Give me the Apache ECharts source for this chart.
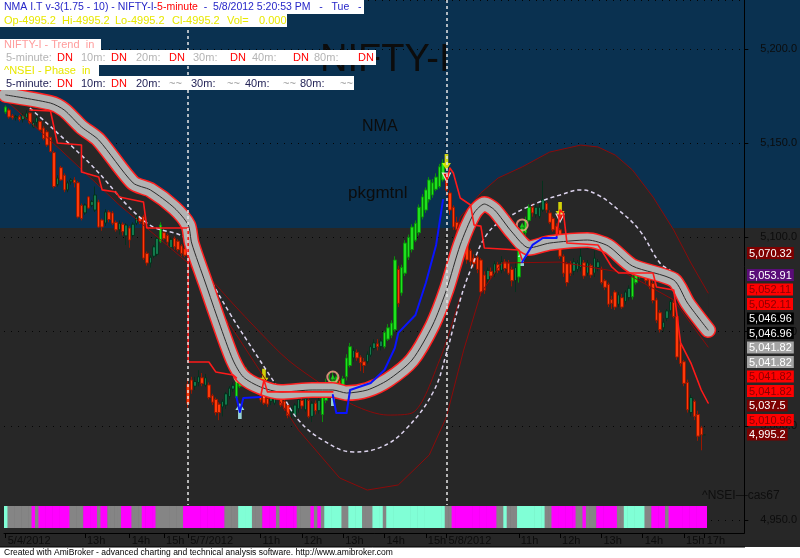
<!DOCTYPE html>
<html>
<head>
<meta charset="utf-8">
<title>NIFTY-I 5-minute</title>
<script src="https://cdn.jsdelivr.net/npm/echarts@6.0.0/dist/echarts.min.js"></script>
<style>
html,body{margin:0;padding:0;background:#fff;overflow:hidden;}
#chart{width:800px;height:558px;}
</style>
</head>
<body>
<div id="chart"></div>
<script>
// ---------------- DATA ----------------
// 5-minute candles [open, close, low, high]
const ohlcMay4 = [
[5166.5,5169.2,5165.5,5170.0],[5167.6,5163.9,5163.0,5168.5],[5164.5,5163.5,5162.5,5165.5],[5163.5,5164.2,5162.0,5165.0],
[5164.0,5162.5,5161.5,5165.0],[5162.5,5164.8,5161.0,5166.0],[5163.5,5166.0,5162.5,5167.5],[5166.0,5160.8,5160.0,5166.5],
[5158.6,5161.0,5158.0,5162.0],[5161.0,5163.5,5159.0,5166.0],[5161.5,5157.0,5156.5,5162.0],[5158.0,5152.5,5151.5,5159.0],
[5156.0,5149.0,5148.0,5157.0],[5153.0,5145.5,5145.0,5153.5],[5145.0,5127.0,5126.0,5146.0],[5128.0,5131.5,5127.0,5133.0],
[5137.0,5130.5,5130.0,5138.0],[5133.0,5125.2,5124.0,5134.0],[5125.2,5128.9,5124.0,5130.0],[5129.5,5130.5,5128.0,5131.5],
[5130.5,5129.0,5126.5,5132.0],[5129.0,5110.8,5110.0,5130.0],[5117.0,5110.0,5109.0,5118.0],[5113.0,5117.2,5112.0,5118.0],
[5121.5,5115.6,5115.0,5122.0],[5117.0,5119.0,5116.0,5119.9],[5114.5,5122.5,5113.5,5127.0],[5118.8,5105.5,5105.0,5120.0],
[5109.2,5105.5,5103.5,5110.0],[5107.6,5113.5,5106.0,5115.0],[5113.5,5109.5,5108.0,5114.5],[5113.0,5107.5,5106.5,5114.0],
[5108.0,5104.0,5103.0,5109.0],[5104.0,5107.5,5101.5,5109.0],[5107.0,5103.0,5101.0,5108.0],[5100.8,5106.6,5096.0,5107.5],
[5105.0,5098.6,5094.5,5106.0],[5101.0,5107.0,5100.0,5108.0],[5107.5,5110.8,5106.5,5112.0],[5110.5,5108.5,5107.0,5111.5],
[5111.0,5089.0,5088.0,5112.0],[5091.5,5086.4,5085.0,5092.5],[5086.4,5089.5,5084.0,5090.5],[5090.0,5095.0,5089.0,5096.0],
[5091.0,5099.5,5090.0,5100.5],[5098.0,5106.6,5097.0,5108.0],[5102.5,5099.3,5098.5,5103.5],[5101.0,5097.5,5096.0,5102.0],
[5094.5,5099.0,5093.5,5100.0],[5099.5,5095.0,5093.5,5100.5],[5098.0,5093.5,5092.5,5099.0],[5095.5,5091.5,5090.0,5096.5],
[5094.0,5090.5,5089.5,5095.0]
];
const ohlcMay7 = [
[5022.0,5012.0,5009.5,5025.0],[5024.3,5019.0,5017.0,5026.0],[5021.0,5023.5,5019.0,5026.0],[5023.0,5026.0,5021.0,5029.5],
[5025.5,5022.5,5021.0,5028.0],[5021.5,5025.5,5020.5,5027.5],[5021.7,5015.0,5014.0,5023.0],[5016.0,5012.5,5011.0,5017.0],
[5014.0,5007.0,5005.5,5015.0],[5011.5,5007.0,5003.0,5012.5],[5010.0,5013.0,5005.0,5014.0],[5011.0,5017.0,5009.0,5018.0],
[5015.5,5020.0,5014.0,5021.0],[5019.5,5021.5,5018.0,5023.0],[5015.0,5024.0,5014.0,5025.0],[5021.0,5028.0,5020.0,5032.0],
[5025.5,5028.0,5024.0,5030.0],[5025.0,5029.5,5023.5,5031.0],[5027.5,5023.5,5022.0,5029.0],[5024.3,5019.0,5018.0,5025.5],
[5022.5,5018.0,5017.0,5024.0],[5020.0,5013.7,5012.5,5021.0],[5015.5,5012.0,5011.0,5016.5],[5014.5,5011.5,5010.0,5015.5],
[5013.0,5016.0,5011.0,5018.0],[5012.0,5020.0,5011.0,5024.0],[5018.0,5017.0,5015.0,5021.0],[5016.0,5011.0,5010.0,5017.0],
[5013.0,5009.0,5008.0,5014.0],[5011.0,5005.5,5004.0,5012.0],[5007.0,5009.0,5003.0,5010.5],[5005.5,5011.0,5004.0,5012.0],
[5009.0,5014.0,5007.0,5015.0],[5013.5,5010.5,5009.0,5015.5],[5008.5,5014.5,5007.5,5016.0],[5013.5,5005.0,5004.0,5014.5],
[5005.0,5012.0,5002.0,5013.0],[5012.0,5008.0,5006.0,5013.5],[5008.0,5013.5,5006.5,5015.0],[5006.0,5017.0,5002.0,5018.0],
[5013.5,5023.0,5012.0,5025.0],[5019.0,5023.5,5017.0,5028.0],[5020.0,5024.0,5018.0,5029.0],[5021.0,5026.0,5019.0,5028.0],
[5024.0,5022.0,5019.0,5026.0],[5021.0,5025.0,5019.5,5026.5],[5026.0,5036.0,5024.0,5038.0],[5032.0,5042.0,5031.0,5044.0],
[5036.0,5040.0,5034.0,5041.5],[5039.0,5036.0,5034.5,5040.5],[5036.5,5033.5,5029.0,5037.5],[5034.0,5032.0,5028.0,5036.0],
[5034.0,5038.0,5033.0,5039.5],[5037.5,5042.0,5036.5,5043.0],[5041.0,5044.0,5040.0,5046.0],[5043.5,5042.0,5040.0,5046.0],
[5042.0,5045.0,5040.0,5046.5],[5042.0,5049.5,5041.0,5050.5],[5046.0,5052.0,5045.0,5054.0],[5048.0,5054.5,5046.5,5056.0],
[5051.0,5088.0,5050.0,5090.0],[5083.0,5065.0,5063.0,5085.0],[5070.5,5084.0,5069.0,5085.5],[5081.0,5097.0,5079.5,5098.5],
[5089.5,5100.0,5088.0,5101.5],[5093.5,5105.5,5092.0,5107.0],[5098.5,5107.5,5097.5,5109.0],[5102.5,5116.0,5101.0,5117.5],
[5110.8,5121.5,5109.5,5123.0],[5114.5,5125.2,5113.0,5126.5],[5120.0,5130.5,5118.5,5132.0],[5122.5,5129.0,5121.0,5131.0],
[5125.5,5132.0,5124.5,5134.0],[5127.0,5137.5,5126.0,5139.0],[5130.5,5139.5,5129.5,5141.5]
];
const ohlcMay8 = [
[5133.0,5125.0,5122.0,5134.0],[5123.6,5114.5,5112.0,5125.0],[5116.0,5105.5,5104.0,5117.0],[5108.0,5104.0,5102.0,5111.0],
[5107.0,5102.5,5101.0,5108.0],[5103.0,5108.0,5101.5,5110.0],[5104.0,5088.0,5086.0,5105.0],[5093.0,5087.0,5085.0,5094.0],
[5089.0,5086.0,5084.0,5091.0],[5089.5,5083.0,5081.0,5090.5],[5088.0,5071.0,5069.0,5089.0],[5080.0,5072.0,5070.0,5082.0],
[5077.5,5082.5,5075.0,5084.0],[5082.0,5079.5,5078.0,5084.0],[5080.5,5086.0,5079.0,5087.5],[5085.5,5082.5,5081.0,5087.0],
[5082.5,5087.0,5081.0,5090.0],[5087.0,5083.5,5082.0,5088.5],[5086.5,5081.0,5080.0,5088.0],[5083.0,5077.0,5074.0,5084.5],
[5077.0,5084.0,5071.0,5087.0],[5079.0,5096.0,5076.0,5098.0],[5096.0,5105.0,5094.5,5106.5],[5102.5,5109.0,5101.0,5111.0],
[5109.0,5116.0,5108.0,5117.5],[5116.0,5113.0,5111.0,5118.0],[5112.0,5116.0,5110.5,5117.5],[5111.0,5116.0,5110.0,5118.0],
[5114.5,5120.0,5113.5,5130.0],[5118.0,5114.5,5113.0,5119.0],[5113.0,5108.0,5107.0,5114.5],[5110.0,5104.0,5103.0,5111.0],
[5106.0,5101.0,5100.0,5107.5],[5104.0,5090.0,5088.5,5105.0],[5090.0,5081.0,5079.0,5091.0],[5086.0,5076.0,5074.0,5087.0],
[5086.0,5081.0,5079.5,5087.5],[5082.0,5087.0,5080.0,5089.0],[5083.0,5086.5,5081.5,5088.0],[5084.0,5090.0,5082.0,5094.0],
[5086.5,5079.5,5078.0,5088.0],[5081.0,5086.5,5079.5,5088.0],[5085.0,5080.0,5078.5,5086.0],[5081.0,5089.0,5079.0,5093.0],
[5084.0,5087.0,5082.0,5088.5],[5083.0,5076.0,5075.0,5084.5],[5077.0,5073.5,5072.0,5078.0],[5075.0,5064.5,5063.0,5076.0],
[5067.0,5065.0,5062.0,5069.0],[5071.0,5063.0,5061.5,5072.0],[5064.5,5069.5,5063.0,5071.0],[5068.0,5063.0,5062.0,5070.0],
[5066.0,5071.0,5064.5,5072.0],[5068.0,5073.0,5066.5,5074.5],[5068.5,5079.0,5067.0,5081.0],[5076.0,5082.5,5075.0,5086.0],
[5079.0,5084.0,5078.0,5086.0],[5083.5,5080.0,5078.5,5085.0],[5081.0,5077.0,5075.5,5082.5],[5079.0,5074.0,5072.5,5080.5],
[5075.5,5066.5,5065.0,5077.0],[5066.8,5056.0,5054.5,5068.0],[5060.0,5051.0,5049.5,5061.5],[5052.0,5055.0,5050.0,5057.0],
[5057.0,5061.0,5055.5,5062.0],[5061.0,5066.0,5059.5,5067.5],[5065.5,5058.0,5057.0,5067.0],[5058.0,5036.5,5035.0,5059.0],
[5043.5,5033.0,5031.5,5045.0],[5034.0,5022.5,5021.0,5035.0],[5023.0,5008.5,5007.0,5024.5],[5007.0,5015.0,5005.0,5016.5],
[5013.0,5005.0,5003.0,5014.0],[5006.0,4994.5,4992.0,5008.0],[4999.0,4995.2,4987.0,5000.0]
];
const ohlcLast = [[4995.2,4995.2,4995.2,4995.2]];   // 17h bar

const slotCount = 215;                 // bars + empty space on the right
const sessionStarts = [53, 128];       // 5/7 and 5/8 first bars
const xTickLabels = [[0,'5/4/2012'],[23,'13h'],[36,'14h'],[46,'15h'],[53,'5/7/2012'],[74,'11h'],[86,'12h'],
  [98,'13h'],[110,'14h'],[122,'15h'],[128,'5/8/2012'],[149,'11h'],[161,'12h'],[173,'13h'],[185,'14h'],[197,'15h'],[203,'17h']];
const brightRanges = [[0,0],[45,45],[67,70],[92,100],[110,127],[149,152],[182,184]];

// indicator lines: [barIndex, price]
const bandCenter = [[0,5175.6],[13,5171.3],[17,5167.6],[22,5158.6],[27,5151.7],[37,5128.9],[42,5125.2],[49,5115.6],
  [53,5106.6],[54,5097.0],[58,5075.8],[62,5054.6],[66,5034.9],[69,5025.9],[74,5020.6],[80,5017.9],[89,5019.0],
  [95,5019.0],[99,5017.4],[105,5019.0],[111,5024.3],[118,5034.9],[124,5053.5],[128,5072.1],[132,5096.0],
  [136,5112.9],[139,5117.7],[142,5114.5],[147,5102.9],[152,5094.4],[158,5097.0],[169,5098.6],[175,5095.4],
  [182,5084.8],[194,5077.4],[198,5065.2],[204,5050.8]];
const envUpper = [[0,5175.6],[13,5171.3],[27,5151.7],[42,5125.2],[53,5106.6],[58,5075.8],[66,5034.9],[74,5020.6],
  [95,5019.0],[111,5024.3],[118,5034.9],[124,5056.2],[128,5082.7],[132,5110.8],[138,5123.6],[143,5131.5],
  [150,5137.4],[158,5145.3],[167,5149.0],[172,5148.0],[177,5143.7],[182,5135.8],[188,5121.4],[194,5103.9],
  [199,5086.4],[204,5070.5]];
const envLower = [[0,5172.9],[16,5146.4],[33,5117.2],[53,5086.4],[68,5045.5],[85,4997.8],[97,4972.3],[105,4965.9],
  [114,4968.6],[123,4984.5],[128,5004.7],[133,5040.2],[138,5070.5],[144,5086.4],[161,5086.9],[180,5081.1],
  [194,5066.8],[204,5041.8]];
const envInner = [[53,5091.7],[65,5066.8],[74,5049.3],[82,5034.9],[92,5021.7],[101,5011.0],[111,5005.7],
  [118,5006.8],[126,5034.9],[132,5068.4]];
const dashedCurve = [[7,5168.7],[24,5140.0],[41,5107.6],[53,5098.6],[59,5079.0],[65,5059.9],[70,5045.5],[80,5017.4],
  [85,5003.1],[92,4992.5],[101,4986.1],[109,4988.7],[116,4997.8],[124,5017.4],[128,5038.6],[132,5066.8],
  [135,5082.7],[140,5102.3],[146,5110.8],[155,5118.8],[161,5122.5],[167,5125.2],[172,5122.5],[178,5114.5],
  [184,5103.9],[190,5086.4],[193,5082.7]];
const redStop1 = [[7,5167.6],[13,5167.1],[15,5150.1],[22,5149.0],[22,5134.7],[27,5132.1],[28,5125.2],[32,5124.1],
  [33,5121.4],[40,5118.8],[41,5105.0],[53,5105.0],[53,5033.9],[59,5033.9],[61,5028.6],[66,5027.0],[67,5025.4]];
const redStop2 = [[74,5015.3],[75,5024.3],[76,5018.0],[95,5018.0]];
const redStop3 = [[128,5128.9],[129,5136.8],[130,5134.2],[132,5120.9],[135,5117.2],[136,5106.6],[138,5106.0],
  [139,5094.4],[149,5093.3],[150,5088.0]];
const redStop4 = [[160,5100.2],[161,5114.5],[162,5112.9],[163,5097.0],[172,5096.0],[173,5093.3],[176,5084.3],
  [178,5081.1],[188,5081.1],[189,5073.7],[194,5072.1],[196,5044.0],[199,5033.3],[202,5019.0],[204,5012.1]];
const blueStop1 = [[67,5015.3],[68,5007.3],[69,5014.8],[74,5015.3]];
const blueStop2 = [[95,5016.3],[96,5006.8],[99,5006.8],[100,5019.0],[106,5022.7],[110,5029.6],[113,5041.3],
  [114,5049.3],[119,5058.8],[122,5075.8],[125,5096.0],[127,5119.9]];
const blueStop3 = [[150,5086.9],[153,5096.0],[156,5099.7],[160,5099.7],[160,5100.2]];

const sellArrows = [[75,5026.0],[128,5140.0],[161,5114.5]];
const sellTriangles = [[75,5017.4],[128,5132.0],[161,5110.3]];
const buyArrows = [[68,5007.9],[95,5014.8],[150,5089.1]];
const buyCircles = [[68,5025.9],[95,5025.9],[150,5106.6]];

// phase strip: [state, number of bars]  0 = aqua, 1 = gray, 2 = magenta
const stripRuns = [[0,1],[1,7],[2,1],[1,1],[2,9],[1,4],[2,4],[1,1],[2,2],[1,4],[2,3],[1,3],[2,4],[1,8],[2,12],
  [1,4],[0,4],[1,3],[2,4],[1,1],[2,5],[1,4],[2,1],[1,1],[2,1],[1,1],[0,5],[1,2],[0,4],[1,3],[0,3],[1,1],[0,17],
  [1,2],[2,13],[1,2],[0,1],[1,3],[0,8],[1,2],[2,7],[1,2],[2,1],[1,3],[2,6],[1,2],[0,6],[1,2],[2,4],[1,1],[2,11]];

// last-value labels on the price axis: [text, background, text colour]
const lastValueLabels = [
  ['5,070.32','#7d0000','#ffffff'],['5,053.91','#5a0c78','#ffffff'],['5,052.11','#ff0000','#8a0000'],
  ['5,052.11','#ff0000','#8a0000'],['5,046.96','#000000','#ffffff'],['5,046.96','#000000','#ffffff'],
  ['5,041.82','#a4a4a4','#ffffff'],['5,041.82','#a4a4a4','#ffffff'],['5,041.82','#ff0000','#8a0000'],
  ['5,041.82','#ff0000','#8a0000'],['5,037.5','#7d0000','#ffffff'],['5,010.96','#ff0000','#8a0000'],
  ['4,995.2','#7d0000','#ffffff']];

// ---------------- BUILD ----------------
const F = '"Liberation Sans", Arial, sans-serif';
const categories = Array.from({length: slotCount}, (_, i) => String(i));
const tickMap = new Map(xTickLabels);
const ohlc = ohlcMay4.concat(ohlcMay7, ohlcMay8, ohlcLast);
const bright = new Set();
brightRanges.forEach(([a, b]) => { for (let i = a; i <= b; i++) bright.add(i); });
const candleData = ohlc.map((v, i) => (bright.has(i) && v[1] > v[0])
  ? {value: v, itemStyle: {color: '#1fe21f', borderColor: '#0b8f0b'}} : v);
const stripData = [];
{ let k = 0; stripRuns.forEach(([s, n]) => { for (let j = 0; j < n; j++) stripData.push([k++, s]); }); }
const stripColors = ['#80ffd6', '#858585', '#ff00ff'];
const Y_MIN = 4943.1, Y_MAX = 5226, SEP_BOTTOM = 4958;

function txt(x, y, s, color, size, extra, z) {
  return {type: 'text', x: x, y: y, z: z == null ? 100 : z, silent: true,
    style: Object.assign({text: s, fill: color, font: size + 'px ' + F, verticalAlign: 'top', align: 'left'}, extra || {})};
}
function rect(x, y, w, h, color, z) {
  return {type: 'rect', silent: true, z: z, shape: {x: x, y: y, width: w, height: h}, style: {fill: color}};
}

const graphics = [
  rect(0, 0, 800, 558, '#272727', -10),
  rect(0, 0, 800, 228, '#0a3150', -9),
  rect(0, 547, 800, 11, '#ffffff', 90),
  {type: 'line', z: 90, silent: true, shape: {x1: 0, y1: 547, x2: 745, y2: 547}, style: {stroke: '#000', lineWidth: 1}},
  txt(4, 548, 'Created with AmiBroker - advanced charting and technical analysis software. http://www.amibroker.com', '#000', 8.5),
  // watermark texts (behind the chart)
  txt(320, 42, 'NIFTY-I', '#0c0c0c', 38, null, -8),
  txt(362, 119, 'NMA', '#0c0c0c', 16, null, -8),
  txt(348, 185, 'pkgmtnl', '#0c0c0c', 17, null, -8),
  txt(702, 490, '^NSEI\u2014cas67', '#0e0e0e', 12, null, -8),
  // title boxes
  rect(0, 0, 364, 14, '#ffffff', 95), rect(0, 14, 287, 13, '#ffffff', 95),
  rect(0, 39, 101, 11, '#ffffff', 95), rect(0, 50, 376, 15, '#ffffff', 95),
  rect(0, 65, 99, 11, '#ffffff', 95), rect(0, 76, 354, 14, '#ffffff', 95),
  txt(4, 2, '{b|NMA I.T v-3(1.75 - 10) - NIFTY-I-}{r|5-minute}{b|  -  5/8/2012 5:20:53 PM   -   Tue   -}', '#2626c8', 10.5,
    {rich: {b: {fill: '#2626c8', font: '10.5px ' + F}, r: {fill: '#ff0000', font: '10.5px ' + F}}}),
  txt(4, 15, 'Op-4995.2', '#e8e800', 11), txt(62, 15, 'Hi-4995.2', '#e8e800', 11),
  txt(115, 15, 'Lo-4995.2', '#e8e800', 11), txt(172, 15, 'Cl-4995.2', '#e8e800', 11),
  txt(227, 15, 'Vol=', '#e8e800', 11), txt(259, 15, '0.000', '#e8e800', 11),
  txt(4, 39, 'NIFTY-I - Trend  in', '#ff9c9c', 11),
  txt(4, 65, '^NSEI - Phase  in', '#e8e800', 11)
];
[['5-minute:',6,'#b4b4b4'],['DN',57,'#ff0000'],['10m:',81,'#b4b4b4'],['DN',111,'#ff0000'],['20m:',136,'#b4b4b4'],
 ['DN',169,'#ff0000'],['30m:',193,'#b4b4b4'],['DN',230,'#ff0000'],['40m:',252,'#b4b4b4'],['DN',293,'#ff0000'],
 ['80m:',314,'#b4b4b4'],['DN',358,'#ff0000']].forEach(t => graphics.push(txt(t[1], 52, t[0], t[2], 11)));
[['5-minute:',6,'#242458'],['DN',57,'#ff0000'],['10m:',81,'#242458'],['DN',111,'#ff0000'],['20m:',136,'#242458'],
 ['~~',169,'#9a9a9a'],['30m:',191,'#242458'],['~~',227,'#9a9a9a'],['40m:',245,'#242458'],['~~',283,'#9a9a9a'],
 ['80m:',300,'#242458'],['~~',340,'#9a9a9a']].forEach(t => graphics.push(txt(t[1], 78, t[0], t[2], 11)));
lastValueLabels.forEach((l, i) => {
  const cy = i === 0 ? 253 : 275 + (i - 1) * 14.5;
  graphics.push(txt(747, cy - 6, l[0], l[2], 11, {backgroundColor: l[1], padding: [1, 2, 0, 2]}));
});

function lineSeries(data, color, width, extra) {
  return Object.assign({type: 'line', data: data, symbol: 'none', silent: true, animation: false,
    lineStyle: {color: color, width: width, cap: 'round', join: 'round'}}, extra || {});
}

const series = [
  { // envelope fill
    type: 'custom', silent: true, data: [[0, 5100]],
    renderItem: function (params, api) {
      if (params.dataIndex !== 0) return null;
      const up = envUpper.map(p => api.coord(p));
      const lo = envLower.map(p => api.coord(p)).reverse();
      return {type: 'polygon', shape: {points: up.concat(lo)}, style: {fill: '#272727'}};
    }
  },
  lineSeries(envUpper, '#8c0a0a', 1),
  lineSeries(envLower, '#8c0a0a', 1),
  lineSeries(envInner, '#8c0a0a', 1, {smooth: 0.3}),
  lineSeries(dashedCurve, '#ddd4ee', 1.5, {smooth: 0.4, lineStyle: {color: '#ddd4ee', width: 1.5, type: [4, 3]}}),
  lineSeries(bandCenter, '#ff2020', 16, {smooth: 0.25}),
  lineSeries(bandCenter, '#b2b2b2', 13, {smooth: 0.25}),
  lineSeries(bandCenter, '#2c2c2c', 1, {smooth: 0.25}),
  lineSeries(redStop1, '#ff1a1a', 1.6), lineSeries(redStop2, '#ff1a1a', 1.6),
  lineSeries(redStop3, '#ff1a1a', 1.6), lineSeries(redStop4, '#ff1a1a', 1.6),
  lineSeries(blueStop1, '#0a14ff', 2), lineSeries(blueStop2, '#0a14ff', 2), lineSeries(blueStop3, '#0a14ff', 2),
  {
    type: 'candlestick', data: candleData, barWidth: 3, silent: true, animation: false,
    itemStyle: {color: '#137a4c', color0: '#ff3b0a', borderColor: '#05301c', borderColor0: '#9a1800', borderWidth: 1},
    markLine: {silent: true, symbol: 'none', animation: false, label: {show: false},
      lineStyle: {color: '#e6e6e6', type: [3, 3], width: 1.5},
      data: sessionStarts.map(i => [{coord: [i, Y_MAX]}, {coord: [i, SEP_BOTTOM]}])}
  },
  {type: 'scatter', data: buyCircles, symbol: 'circle', symbolSize: 11, silent: true, animation: false,
    itemStyle: {color: 'rgba(0,0,0,0)', borderColor: '#ffa58c', borderWidth: 2}},
  {type: 'scatter', data: buyCircles, symbol: 'triangle', symbolSize: 5, silent: true, animation: false,
    itemStyle: {color: '#1fe21f'}},
  {type: 'scatter', data: buyArrows, symbol: 'path://M5,0 L10,7 L7,7 L7,16 L3,16 L3,7 L0,7 Z', symbolSize: [9, 16],
    silent: true, animation: false, itemStyle: {color: '#b6ffff'}},
  {type: 'scatter', data: sellArrows, symbol: 'path://M3,0 L7,0 L7,9 L10,9 L5,16 L0,9 L3,9 Z', symbolSize: [9, 16],
    silent: true, animation: false, itemStyle: {color: '#ffff00'}},
  {type: 'scatter', data: sellTriangles, symbol: 'triangle', symbolRotate: 180, symbolSize: 8, silent: true,
    animation: false, itemStyle: {color: '#ff0000', borderColor: '#ffffff', borderWidth: 1.2}},
  { // phase strip
    type: 'custom', silent: true, data: stripData, z: 10,
    renderItem: function (params, api) {
      const x = api.coord([api.value(0), 5000])[0];
      const w = api.size([1, 0])[0];
      const cs = params.coordSys;
      return {type: 'rect', shape: {x: x - w / 2, y: cs.y + cs.height - 27, width: w + 0.6, height: 22},
        style: {fill: stripColors[api.value(1)]}};
    }
  }
];

const chart = echarts.init(document.getElementById('chart'), null, {renderer: 'canvas', width: 800, height: 558});
chart.setOption({
  animation: false,
  backgroundColor: '#272727',
  textStyle: {fontFamily: F},
  grid: {left: 4, right: 55, top: 0, bottom: 25},
  xAxis: {
    type: 'category', data: categories, boundaryGap: true,
    axisLine: {show: true, lineStyle: {color: '#000', width: 1}},
    axisTick: {show: true, alignWithLabel: true, length: 5, interval: i => tickMap.has(i), lineStyle: {color: '#000'}},
    axisLabel: {interval: i => tickMap.has(i), formatter: (v, i) => tickMap.get(i) || '', color: '#0c0c0c',
      fontSize: 11, fontFamily: F, align: 'left', margin: 2, padding: [0, 0, 0, 2]},
    splitLine: {show: false}
  },
  yAxis: {
    type: 'value', position: 'right', min: Y_MIN, max: Y_MAX, splitNumber: 5,
    axisLine: {show: true, lineStyle: {color: '#000'}},
    axisTick: {show: true, length: 4, lineStyle: {color: '#000'}},
    axisLabel: {color: '#0c0c0c', fontSize: 11, fontFamily: F, margin: 16, showMinLabel: false, showMaxLabel: false,
      formatter: v => v.toLocaleString('en-US', {minimumFractionDigits: 1, maximumFractionDigits: 1})},
    splitLine: {show: true, lineStyle: {color: '#050505', type: [1, 6], width: 1}}
  },
  graphic: graphics,
  series: series
});
</script>
</body>
</html>
